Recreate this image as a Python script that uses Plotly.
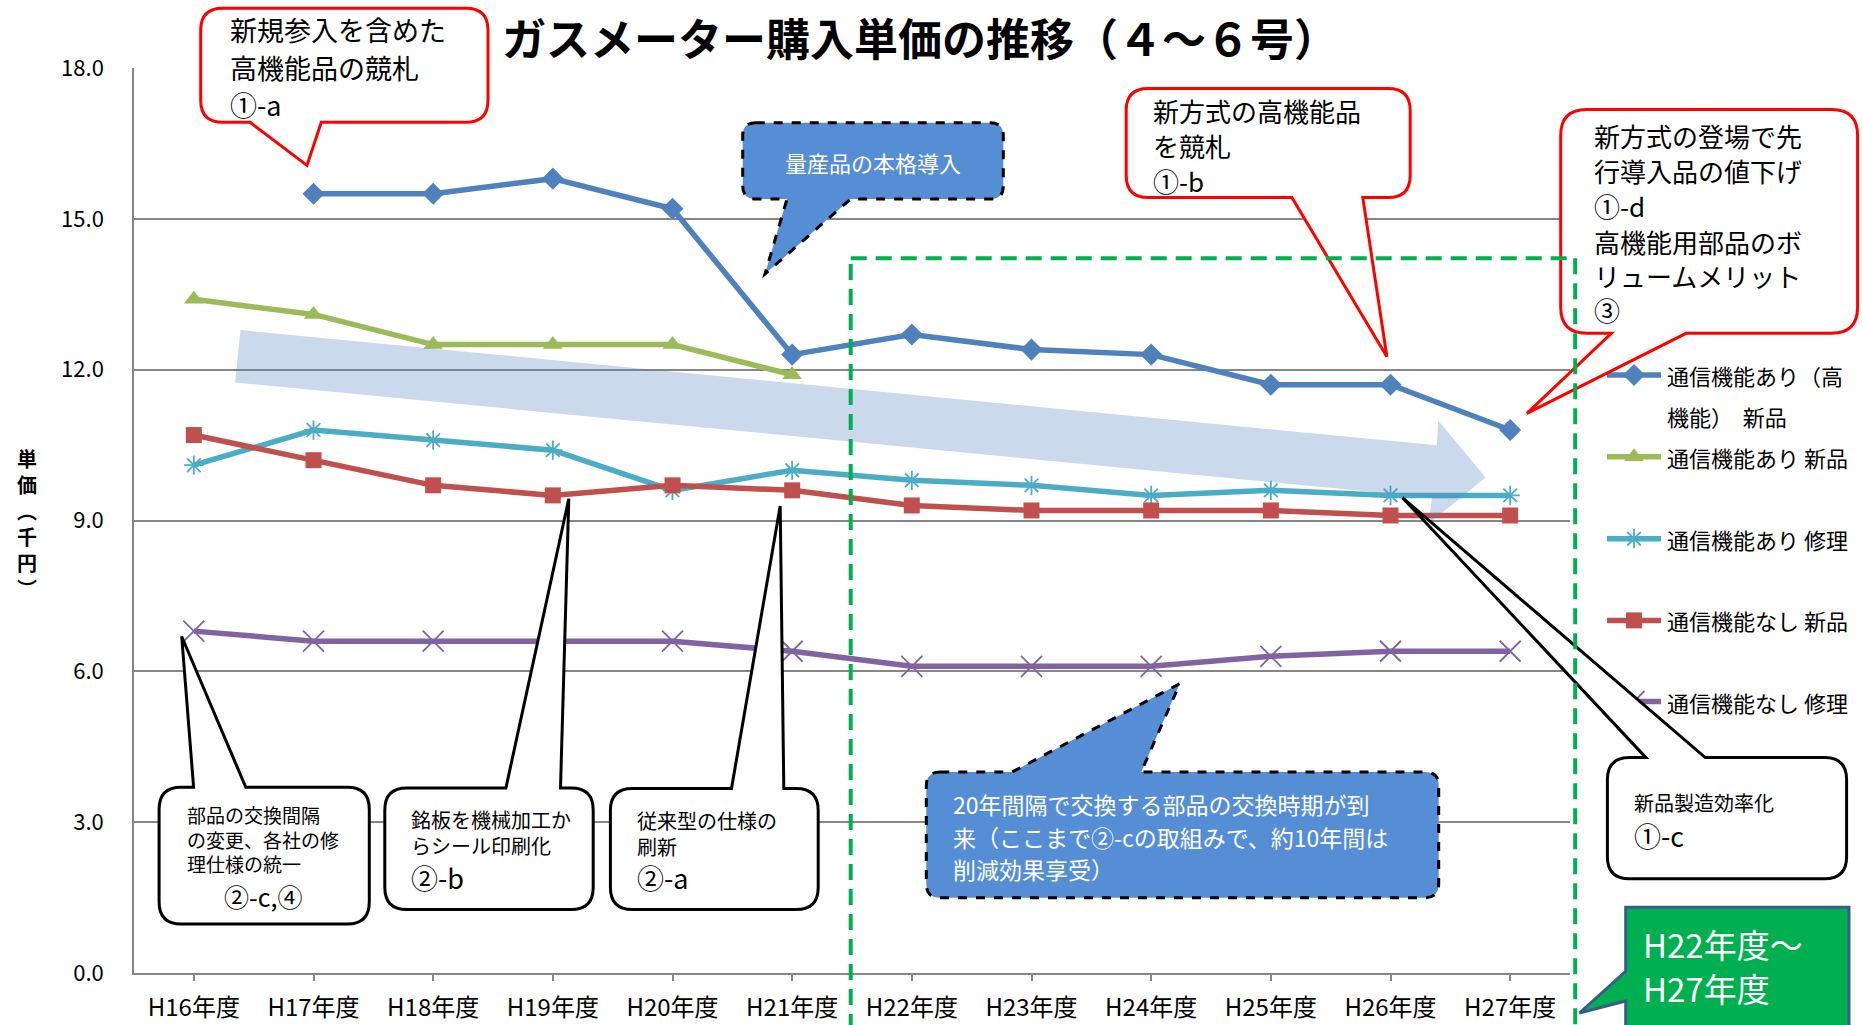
import plotly.graph_objects as go

W, H = 1862, 1025
FONT = "Noto Sans CJK JP"

# ---- data -------------------------------------------------------------
years = ["H16年度", "H17年度", "H18年度", "H19年度", "H20年度", "H21年度",
         "H22年度", "H23年度", "H24年度", "H25年度", "H26年度", "H27年度"]

comm_high_new = [None, 15.5, 15.5, 15.8, 15.2, 12.3, 12.7, 12.4, 12.3, 11.7, 11.7, 10.8]
comm_new = [13.4, 13.1, 12.5, 12.5, 12.5, 11.9, None, None, None, None, None, None]
comm_repair = [10.1, 10.8, 10.6, 10.4, 9.6, 10.0, 9.8, 9.7, 9.5, 9.6, 9.5, 9.5]
nocomm_new = [10.7, 10.2, 9.7, 9.5, 9.7, 9.6, 9.3, 9.2, 9.2, 9.2, 9.1, 9.1]
nocomm_repair = [6.8, 6.6, 6.6, 6.6, 6.6, 6.4, 6.1, 6.1, 6.1, 6.3, 6.4, 6.4]

series_names = ["通信機能あり（高機能） 新品", "通信機能あり 新品", "通信機能あり 修理",
                "通信機能なし 新品", "通信機能なし 修理"]
legend_lines = [["通信機能あり（高", "機能）  新品"], ["通信機能あり 新品"], ["通信機能あり 修理"],
                ["通信機能なし 新品"], ["通信機能なし 修理"]]
y_ticks = [0, 3, 6, 9, 12, 15, 18]

# ---- series styles ----------------------------------------------------
styles = [
    dict(color="#4F81BD", symbol="diamond", size=17, mline=0),
    dict(color="#9BBB59", symbol="triangle-up", size=17, mline=0),
    dict(color="#4BACC6", symbol="asterisk-open", size=16, mline=1.8),
    dict(color="#C0504D", symbol="square", size=16, mline=0),
    dict(color="#8064A2", symbol="x-thin-open", size=21, mline=1.8),
]
values = [comm_high_new, comm_new, comm_repair, nocomm_new, nocomm_repair]
LINE_W = 5.5

fig = go.Figure()
for name, vals, st in zip(series_names, values, styles):
    fig.add_trace(go.Scatter(
        x=years, y=vals, name=name, mode="lines+markers",
        line=dict(color=st["color"], width=LINE_W),
        marker=dict(symbol=st["symbol"], size=st["size"], color=st["color"],
                    line=dict(color=st["color"], width=st["mline"])),
        xaxis="x", yaxis="y", showlegend=False, connectgaps=False,
    ))

# ---- hand-built legend on a full-figure pixel axis ----------------------
leg_rows = [375, 456.8, 538.7, 620.4, 701.5]
leg_x0, leg_x1, leg_xm, leg_tx = 1607, 1661, 1634, 1665
annotations = []


def txt(x, y, s, size, color="black", xanchor="left"):
    annotations.append(dict(
        xref="x2", yref="y2", x=x, y=y, text=s, showarrow=False,
        xanchor=xanchor, yanchor="middle", align="left",
        font=dict(family=FONT, size=size, color=color)))


for row, st, lines in zip(leg_rows, styles, legend_lines):
    fig.add_trace(go.Scatter(
        x=[leg_x0, leg_x1], y=[row, row], mode="lines",
        line=dict(color=st["color"], width=LINE_W),
        xaxis="x2", yaxis="y2", showlegend=False, hoverinfo="skip", cliponaxis=False))
    fig.add_trace(go.Scatter(
        x=[leg_xm], y=[row], mode="markers",
        marker=dict(symbol=st["symbol"], size=st["size"], color=st["color"],
                    line=dict(color=st["color"], width=st["mline"])),
        xaxis="x2", yaxis="y2", showlegend=False, hoverinfo="skip", cliponaxis=False))
    for i, ln in enumerate(lines):
        txt(leg_tx, row + i * 41, ln, 22, "#000000")


# ---- callout shapes ---------------------------------------------------
def callout_path(x0, y0, x1, y1, r, side=None, base=None, tip=None):
    p = [f"M{x0 + r},{y0}"]
    if side == "top":
        p += [f"L{base[0]},{y0}", f"L{tip[0]},{tip[1]}", f"L{base[1]},{y0}"]
    p += [f"L{x1 - r},{y0}", f"Q{x1},{y0} {x1},{y0 + r}",
          f"L{x1},{y1 - r}", f"Q{x1},{y1} {x1 - r},{y1}"]
    if side == "bottom":
        p += [f"L{base[1]},{y1}", f"L{tip[0]},{tip[1]}", f"L{base[0]},{y1}"]
    p += [f"L{x0 + r},{y1}", f"Q{x0},{y1} {x0},{y1 - r}"]
    if side == "left":
        p += [f"L{x0},{base[1]}", f"L{tip[0]},{tip[1]}", f"L{x0},{base[0]}"]
    p += [f"L{x0},{y0 + r}", f"Q{x0},{y0} {x0 + r},{y0}", "Z"]
    return " ".join(p)


shapes = []


def add_path(path, fill, line_color, width, dash="solid"):
    shapes.append(dict(type="path", xref="x2", yref="y2", path=path,
                       fillcolor=fill, layer="above",
                       line=dict(color=line_color, width=width, dash=dash)))


# translucent trend arrow
arrow_pts = [(240.5, 330.1), (1436.9, 445.3), (1438.1, 420.4), (1485.6, 477.4),
             (1428.6, 523.7), (1432.1, 497.6), (235.1, 382.4)]
shapes.append(dict(type="path", xref="x2", yref="y2", layer="above",
                   path="M" + " L".join(f"{x},{y}" for x, y in arrow_pts) + " Z",
                   fillcolor="rgba(79,129,189,0.30)", line=dict(width=0)))

# red callouts
add_path(callout_path(200.7, 8.3, 488, 122.3, 22, "bottom", (250, 321.3), (307, 165.4)),
         "white", "#FF0000", 3)
add_path(callout_path(1126.2, 88.6, 1410.2, 197.5, 22, "bottom", (1291.9, 1362.8), (1386.9, 356.7)),
         "white", "#FF0000", 3)
add_path(callout_path(1560.7, 109.6, 1857.6, 333.3, 26, "bottom", (1611.4, 1686.1), (1526.9, 413.3)),
         "white", "#FF0000", 3)

# blue dashed callouts
add_path(callout_path(742.7, 122.7, 1003.3, 199, 13, "bottom", (787, 850.7), (765, 274)),
         "#558ED5", "#000000", 3, "dash")
add_path(callout_path(926.3, 771.9, 1438.7, 897.8, 14, "top", (1012.3, 1141.2), (1179.8, 683.6)),
         "#558ED5", "#000000", 3, "dash")

# black callouts
add_path(callout_path(159.1, 787.3, 369.3, 923.9, 22, "top", (193.6, 245.8), (181.7, 636.5)),
         "white", "#000000", 3)
add_path(callout_path(384.8, 788, 593.2, 909.6, 22, "top", (505.9, 560.5), (568.8, 498.8)),
         "white", "#000000", 3)
add_path(callout_path(610.4, 788.5, 818.2, 909.6, 22, "top", (731.5, 783.8), (780.2, 505.9)),
         "white", "#000000", 3)
add_path(callout_path(1607.4, 757.6, 1846.6, 878.8, 22, "top", (1645.9, 1705.3), (1402.4, 497.6)),
         "white", "#000000", 3)

# green dashed frame around the H22-H27 period
for x0, y0, x1, y1 in [(850.7, 1030, 850.7, 258.3), (850.7, 258.3, 1575.2, 258.3),
                       (1575.2, 258.3, 1575.2, 1030)]:
    shapes.append(dict(type="line", xref="x2", yref="y2", x0=x0, y0=y0, x1=x1, y1=y1,
                       layer="above", line=dict(color="#00B050", width=4, dash="16px,9px")))

# green period label
add_path(callout_path(1625.7, 907.3, 1849, 1040, 0, "left", (971.4, 1001), (1579.4, 1013)),
         "#00B050", "#385D8A", 3)

# ---- texts -------------------------------------------------------------
txt(920, 37, "<b>ガスメーター購入単価の推移（４～６号）</b>", 44, "black", "center")
annotations.append(dict(xref="x2", yref="y2", x=26.7, y=523, showarrow=False,
                        text="<b>単<br>価<br>︵<br>千<br>円<br>︶</b>",
                        xanchor="center", yanchor="middle",
                        font=dict(family=FONT, size=20, color="black")))

for y, s in zip([29.7, 67.7, 104], ["新規参入を含めた", "高機能品の競札", "①-a"]):
    txt(227.6, y, s, 27)
for y, s in zip([110.3, 145.2, 180.3], ["新方式の高機能品", "を競札", "①-b"]):
    txt(1150.5, y, s, 26)
for y, s in zip([135.4, 170.2, 205.4, 241.8, 275.1, 309.9],
                ["新方式の登場で先", "行導入品の値下げ", "①-d", "高機能用部品のボ", "リュームメリット", "③"]):
    txt(1592, y, s, 26)

txt(872.7, 161.7, "量産品の本格導入", 22, "white", "center")
for y, s in zip([804, 837.2, 869.3],
                ["20年間隔で交換する部品の交換時期が到", "来（ここまで②-cの取組みで、約10年間は", "削減効果享受）"]):
    txt(951.2, y, s, 23, "white")

txt(185, 839, "部品の交換間隔<br>の変更、各社の修<br>理仕様の統一", 19)
txt(263.3, 896, "②-c,④", 25, "black", "center")
txt(409.1, 832, "銘板を機械加工か<br>らシール印刷化", 20)
txt(409.1, 877.6, "②-b", 27)
txt(634.8, 833, "従来型の仕様の<br>刷新", 20)
txt(634.8, 877.6, "②-a", 27)
txt(1631.6, 802.2, "新品製造効率化", 20)
txt(1631.6, 835.6, "①-c", 27)

txt(1641, 944, "H22年度～", 33, "white")
txt(1641, 988, "H27年度", 33, "white")

# ---- layout ------------------------------------------------------------
fig.update_layout(
    template="none",
    width=W, height=H, autosize=False,
    margin=dict(l=0, r=0, t=0, b=0, pad=0),
    paper_bgcolor="white", plot_bgcolor="rgba(0,0,0,0)",
    showlegend=False,
    font=dict(family=FONT, color="black"),
    xaxis=dict(domain=[134 / W, 1570 / W], anchor="y", type="category",
               range=[-0.5, len(years) - 0.5], showgrid=False,
               showline=True, linecolor="#868686", linewidth=1.5,
               ticks="outside", ticklen=6, tickcolor="#868686", tickwidth=1.5,
               tickfont=dict(family=FONT, size=24, color="black"),
               ticklabelstandoff=6, automargin=False, fixedrange=True),
    yaxis=dict(domain=[(H - 973) / H, (H - 68) / H], anchor="x",
               range=[0, 18.001], tickvals=y_ticks, ticktext=[f"{v:.1f}" for v in y_ticks],
               showgrid=True, gridcolor="#868686", gridwidth=1.5, zeroline=False,
               showline=True, linecolor="#868686", linewidth=1.5, ticks="",
               tickfont=dict(family=FONT, size=22, color="black"),
               ticklabelstandoff=24, automargin=False, fixedrange=True),
    xaxis2=dict(domain=[0, 1], anchor="y2", range=[0, W], visible=False, fixedrange=True),
    yaxis2=dict(domain=[0, 1], anchor="x2", range=[H, 0], visible=False, fixedrange=True),
    shapes=shapes,
    annotations=annotations,
)

fig.write_html("out.html")
